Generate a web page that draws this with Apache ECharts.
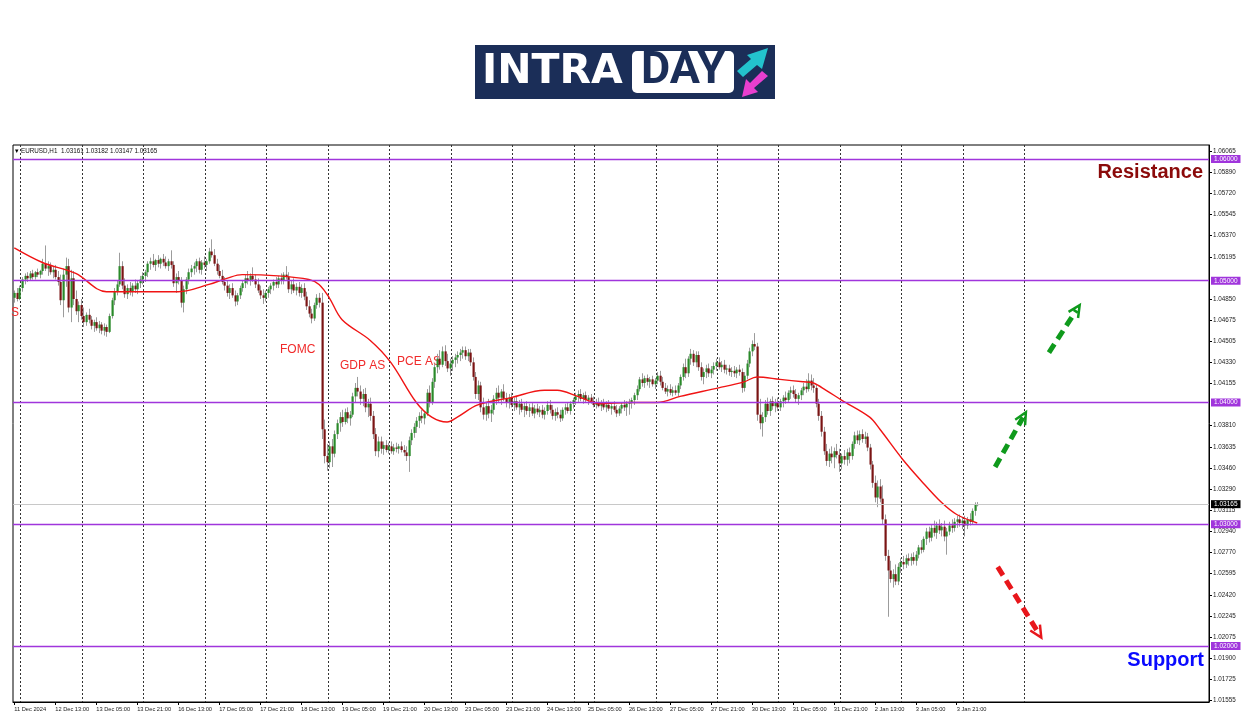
<!DOCTYPE html>
<html><head><meta charset="utf-8">
<script src="https://cdn.jsdelivr.net/npm/echarts@6/dist/echarts.min.js"></script>
<style>html,body{margin:0;padding:0;background:#fff}#c{width:1250px;height:716px}</style>
</head><body><div id="c"></div>
<script>
// ---------- data ----------
const symbolTitle = "EURUSD,H1  1.03161 1.03182 1.03147 1.03165";
const tickLabels = ["11 Dec 2024","12 Dec 13:00","13 Dec 05:00","13 Dec 21:00","16 Dec 13:00","17 Dec 05:00","17 Dec 21:00","18 Dec 13:00","19 Dec 05:00","19 Dec 21:00","20 Dec 13:00","23 Dec 05:00","23 Dec 21:00","24 Dec 13:00","25 Dec 05:00","26 Dec 13:00","27 Dec 05:00","27 Dec 21:00","30 Dec 13:00","31 Dec 05:00","31 Dec 21:00","2 Jan 13:00","3 Jan 05:00","3 Jan 21:00"];
const barsPerTick = 16;
const totalSlots = 467;               // bars + empty shift area to the right
const dayStartBars = [3,27,51,75,99,123,147,171,195,219,227,251,275,299,323,347,371,395];
const yTickValues = [1.06065,1.05890,1.05720,1.05545,1.05370,1.05195,1.04850,1.04675,1.04505,1.04330,1.04155,1.03810,1.03635,1.03460,1.03290,1.03115,1.02940,1.02770,1.02595,1.02420,1.02245,1.02075,1.01900,1.01725,1.01555];
const levelLines = [1.06,1.05,1.04,1.03,1.02];
const currentPrice = 1.03165;
// [open, high, low, close] per H1 bar
const candles = [
[1.0486,1.0492,1.0482,1.0490],[1.0490,1.0494,1.0483,1.0485],[1.0485,1.0496,1.0484,1.0494],[1.0494,1.0503,1.0491,1.0501],[1.0501,1.0506,1.0497,1.0504],
[1.0504,1.0507,1.0499,1.0502],[1.0502,1.0508,1.0500,1.0506],[1.0506,1.0509,1.0501,1.0503],[1.0503,1.0508,1.0501,1.0507],[1.0507,1.0510,1.0503,1.0505],
[1.0505,1.0509,1.0502,1.0508],[1.0508,1.0518,1.0505,1.0514],[1.0514,1.0529,1.0508,1.0510],[1.0510,1.0516,1.0504,1.0512],[1.0512,1.0515,1.0505,1.0507],
[1.0507,1.0512,1.0502,1.0509],[1.0509,1.0513,1.0501,1.0503],[1.0503,1.0508,1.0496,1.0499],[1.0499,1.0505,1.0480,1.0484],[1.0484,1.0510,1.0470,1.0505],
[1.0505,1.0519,1.0495,1.0512],[1.0512,1.0518,1.0474,1.0478],[1.0478,1.0509,1.0466,1.0502],[1.0502,1.0508,1.0480,1.0485],[1.0485,1.0492,1.0472,1.0475],
[1.0475,1.0483,1.0466,1.0480],[1.0480,1.0485,1.0468,1.0471],[1.0471,1.0478,1.0462,1.0466],[1.0466,1.0474,1.0463,1.0472],[1.0472,1.0477,1.0465,1.0468],
[1.0468,1.0471,1.0460,1.0463],[1.0463,1.0468,1.0458,1.0466],[1.0466,1.0470,1.0459,1.0461],[1.0461,1.0467,1.0457,1.0464],[1.0464,1.0466,1.0456,1.0459],
[1.0459,1.0465,1.0455,1.0462],[1.0462,1.0464,1.0454,1.0458],[1.0458,1.0473,1.0457,1.0471],[1.0471,1.0486,1.0469,1.0484],[1.0484,1.0494,1.0480,1.0491],
[1.0491,1.0500,1.0488,1.0497],[1.0497,1.0523,1.0495,1.0512],[1.0512,1.0516,1.0493,1.0496],[1.0496,1.0502,1.0486,1.0489],[1.0489,1.0497,1.0485,1.0494],
[1.0494,1.0499,1.0488,1.0491],[1.0491,1.0498,1.0487,1.0496],[1.0496,1.0501,1.0490,1.0493],[1.0493,1.0500,1.0489,1.0498],[1.0498,1.0504,1.0494,1.0501],
[1.0501,1.0507,1.0497,1.0504],[1.0504,1.0509,1.0499,1.0507],[1.0507,1.0516,1.0503,1.0514],[1.0514,1.0519,1.0509,1.0516],[1.0516,1.0522,1.0511,1.0513],
[1.0513,1.0518,1.0508,1.0517],[1.0517,1.0521,1.0511,1.0514],[1.0514,1.0519,1.0510,1.0518],[1.0518,1.0522,1.0512,1.0515],[1.0515,1.0520,1.0510,1.0512],
[1.0512,1.0518,1.0508,1.0516],[1.0516,1.0525,1.0510,1.0513],[1.0513,1.0516,1.0495,1.0498],[1.0498,1.0506,1.0490,1.0503],[1.0503,1.0508,1.0497,1.0500],
[1.0500,1.0503,1.0478,1.0482],[1.0482,1.0496,1.0474,1.0493],[1.0493,1.0503,1.0489,1.0501],[1.0501,1.0510,1.0497,1.0507],[1.0507,1.0513,1.0503,1.0510],
[1.0510,1.0515,1.0505,1.0512],[1.0512,1.0518,1.0507,1.0516],[1.0516,1.0519,1.0506,1.0509],[1.0509,1.0517,1.0505,1.0515],[1.0515,1.0520,1.0510,1.0513],
[1.0513,1.0518,1.0508,1.0516],[1.0516,1.0527,1.0514,1.0524],[1.0524,1.0534,1.0519,1.0521],[1.0521,1.0526,1.0512,1.0514],[1.0514,1.0518,1.0505,1.0508],
[1.0508,1.0513,1.0502,1.0504],[1.0504,1.0509,1.0497,1.0499],[1.0499,1.0503,1.0492,1.0496],[1.0496,1.0500,1.0487,1.0490],[1.0490,1.0497,1.0485,1.0494],
[1.0494,1.0498,1.0486,1.0488],[1.0488,1.0492,1.0479,1.0483],[1.0483,1.0490,1.0480,1.0488],[1.0488,1.0496,1.0485,1.0494],[1.0494,1.0500,1.0491,1.0498],
[1.0498,1.0505,1.0494,1.0502],[1.0502,1.0508,1.0497,1.0500],[1.0500,1.0506,1.0496,1.0504],[1.0504,1.0511,1.0499,1.0501],[1.0501,1.0505,1.0494,1.0497],
[1.0497,1.0502,1.0490,1.0492],[1.0492,1.0496,1.0485,1.0488],[1.0488,1.0493,1.0481,1.0486],[1.0486,1.0492,1.0483,1.0490],[1.0490,1.0495,1.0486,1.0493],
[1.0493,1.0498,1.0489,1.0496],[1.0496,1.0501,1.0492,1.0499],[1.0499,1.0503,1.0494,1.0497],[1.0497,1.0504,1.0494,1.0502],[1.0502,1.0506,1.0497,1.0500],
[1.0500,1.0507,1.0497,1.0505],[1.0505,1.0512,1.0501,1.0503],[1.0503,1.0507,1.0490,1.0493],[1.0493,1.0500,1.0489,1.0497],[1.0497,1.0502,1.0490,1.0492],
[1.0492,1.0498,1.0488,1.0495],[1.0495,1.0499,1.0487,1.0490],[1.0490,1.0497,1.0486,1.0494],[1.0494,1.0498,1.0484,1.0487],[1.0487,1.0491,1.0476,1.0479],
[1.0479,1.0484,1.0470,1.0473],[1.0473,1.0477,1.0465,1.0469],[1.0469,1.0482,1.0467,1.0480],[1.0480,1.0489,1.0477,1.0486],[1.0486,1.0490,1.0478,1.0482],
[1.0482,1.0490,1.0370,1.0378],[1.0378,1.0386,1.0350,1.0356],[1.0356,1.0366,1.0344,1.0351],[1.0351,1.0368,1.0346,1.0364],[1.0364,1.0370,1.0347,1.0358],
[1.0358,1.0377,1.0355,1.0374],[1.0374,1.0386,1.0370,1.0383],[1.0383,1.0392,1.0376,1.0388],[1.0388,1.0394,1.0380,1.0384],[1.0384,1.0395,1.0382,1.0392],
[1.0392,1.0396,1.0383,1.0387],[1.0387,1.0393,1.0381,1.0390],[1.0390,1.0408,1.0388,1.0405],[1.0405,1.0416,1.0400,1.0412],[1.0412,1.0421,1.0405,1.0409],
[1.0409,1.0414,1.0398,1.0403],[1.0403,1.0411,1.0397,1.0407],[1.0407,1.0412,1.0392,1.0396],[1.0396,1.0403,1.0388,1.0399],[1.0399,1.0404,1.0385,1.0389],
[1.0389,1.0393,1.0370,1.0374],[1.0374,1.0379,1.0356,1.0360],[1.0360,1.0372,1.0355,1.0368],[1.0368,1.0372,1.0358,1.0362],[1.0362,1.0368,1.0357,1.0365],
[1.0365,1.0369,1.0359,1.0361],[1.0361,1.0367,1.0358,1.0364],[1.0364,1.0368,1.0358,1.0360],[1.0360,1.0366,1.0357,1.0363],[1.0363,1.0367,1.0359,1.0362],
[1.0362,1.0366,1.0358,1.0364],[1.0364,1.0368,1.0359,1.0361],[1.0361,1.0365,1.0356,1.0359],[1.0359,1.0364,1.0352,1.0356],[1.0356,1.0372,1.0343,1.0369],
[1.0369,1.0378,1.0365,1.0375],[1.0375,1.0383,1.0371,1.0380],[1.0380,1.0388,1.0375,1.0385],[1.0385,1.0392,1.0379,1.0389],[1.0389,1.0394,1.0383,1.0387],
[1.0387,1.0393,1.0382,1.0391],[1.0391,1.0411,1.0389,1.0408],[1.0408,1.0414,1.0396,1.0400],[1.0400,1.0420,1.0398,1.0417],[1.0417,1.0432,1.0412,1.0429],
[1.0429,1.0440,1.0424,1.0436],[1.0436,1.0443,1.0427,1.0431],[1.0431,1.0446,1.0429,1.0442],[1.0442,1.0447,1.0430,1.0434],[1.0434,1.0440,1.0425,1.0428],
[1.0428,1.0436,1.0422,1.0432],[1.0432,1.0438,1.0426,1.0435],[1.0435,1.0440,1.0429,1.0437],[1.0437,1.0442,1.0432,1.0439],[1.0439,1.0444,1.0434,1.0441],
[1.0441,1.0446,1.0436,1.0443],[1.0443,1.0446,1.0435,1.0438],[1.0438,1.0444,1.0434,1.0441],[1.0441,1.0444,1.0430,1.0433],[1.0433,1.0437,1.0418,1.0421],
[1.0421,1.0425,1.0403,1.0407],[1.0407,1.0418,1.0402,1.0414],[1.0414,1.0417,1.0392,1.0396],[1.0396,1.0404,1.0386,1.0390],[1.0390,1.0400,1.0385,1.0397],
[1.0397,1.0403,1.0387,1.0391],[1.0391,1.0398,1.0384,1.0394],[1.0394,1.0406,1.0390,1.0403],[1.0403,1.0412,1.0398,1.0408],[1.0408,1.0414,1.0400,1.0404],
[1.0404,1.0411,1.0398,1.0409],[1.0409,1.0415,1.0401,1.0403],[1.0403,1.0408,1.0396,1.0400],[1.0400,1.0407,1.0395,1.0404],[1.0404,1.0408,1.0396,1.0398],
[1.0398,1.0404,1.0393,1.0401],[1.0401,1.0405,1.0394,1.0396],[1.0396,1.0402,1.0390,1.0399],[1.0399,1.0403,1.0392,1.0394],[1.0394,1.0400,1.0388,1.0397],
[1.0397,1.0401,1.0390,1.0393],[1.0393,1.0399,1.0388,1.0396],[1.0396,1.0400,1.0389,1.0391],[1.0391,1.0398,1.0387,1.0395],[1.0395,1.0399,1.0390,1.0392],
[1.0392,1.0397,1.0388,1.0394],[1.0394,1.0398,1.0387,1.0390],[1.0390,1.0396,1.0386,1.0393],[1.0393,1.0401,1.0390,1.0398],[1.0398,1.0402,1.0391,1.0394],
[1.0394,1.0398,1.0386,1.0389],[1.0389,1.0395,1.0385,1.0392],[1.0392,1.0396,1.0387,1.0390],[1.0390,1.0394,1.0384,1.0387],[1.0387,1.0396,1.0385,1.0394],
[1.0394,1.0399,1.0390,1.0396],[1.0396,1.0400,1.0391,1.0393],[1.0393,1.0401,1.0390,1.0399],[1.0399,1.0404,1.0395,1.0402],[1.0402,1.0408,1.0398,1.0405],
[1.0405,1.0410,1.0400,1.0407],[1.0407,1.0411,1.0401,1.0403],[1.0403,1.0408,1.0399,1.0406],[1.0406,1.0409,1.0400,1.0402],[1.0402,1.0406,1.0398,1.0404],
[1.0404,1.0407,1.0399,1.0401],[1.0401,1.0405,1.0396,1.0398],[1.0398,1.0403,1.0395,1.0400],[1.0400,1.0404,1.0396,1.0397],[1.0397,1.0402,1.0393,1.0399],
[1.0399,1.0403,1.0394,1.0396],[1.0396,1.0401,1.0392,1.0398],[1.0398,1.0402,1.0393,1.0395],[1.0395,1.0399,1.0390,1.0397],[1.0397,1.0401,1.0392,1.0394],
[1.0394,1.0398,1.0388,1.0391],[1.0391,1.0397,1.0389,1.0395],[1.0395,1.0400,1.0391,1.0398],[1.0398,1.0402,1.0393,1.0396],[1.0396,1.0401,1.0389,1.0399],
[1.0399,1.0403,1.0390,1.0400],[1.0400,1.0404,1.0395,1.0402],[1.0402,1.0408,1.0398,1.0406],[1.0406,1.0414,1.0402,1.0411],[1.0411,1.0421,1.0409,1.0419],
[1.0419,1.0424,1.0413,1.0416],[1.0416,1.0422,1.0412,1.0420],[1.0420,1.0423,1.0414,1.0417],[1.0417,1.0421,1.0412,1.0419],[1.0419,1.0422,1.0413,1.0415],
[1.0415,1.0420,1.0411,1.0418],[1.0418,1.0425,1.0415,1.0422],[1.0422,1.0426,1.0414,1.0417],[1.0417,1.0421,1.0410,1.0412],[1.0412,1.0416,1.0407,1.0409],
[1.0409,1.0414,1.0405,1.0411],[1.0411,1.0415,1.0406,1.0408],[1.0408,1.0413,1.0405,1.0410],[1.0410,1.0414,1.0406,1.0408],[1.0408,1.0416,1.0405,1.0414],
[1.0414,1.0423,1.0411,1.0421],[1.0421,1.0432,1.0418,1.0429],[1.0429,1.0436,1.0420,1.0424],[1.0424,1.0438,1.0421,1.0436],[1.0436,1.0444,1.0431,1.0440],
[1.0440,1.0443,1.0430,1.0433],[1.0433,1.0442,1.0429,1.0439],[1.0439,1.0442,1.0426,1.0429],[1.0429,1.0433,1.0418,1.0421],[1.0421,1.0428,1.0415,1.0425],
[1.0425,1.0431,1.0420,1.0428],[1.0428,1.0432,1.0421,1.0424],[1.0424,1.0430,1.0420,1.0427],[1.0427,1.0433,1.0423,1.0430],[1.0430,1.0436,1.0426,1.0433],
[1.0433,1.0437,1.0427,1.0429],[1.0429,1.0434,1.0425,1.0431],[1.0431,1.0435,1.0424,1.0427],[1.0427,1.0431,1.0423,1.0428],[1.0428,1.0431,1.0422,1.0425],
[1.0425,1.0429,1.0421,1.0426],[1.0426,1.0430,1.0421,1.0424],[1.0424,1.0429,1.0420,1.0427],[1.0427,1.0431,1.0422,1.0425],[1.0425,1.0428,1.0408,1.0412],
[1.0412,1.0425,1.0409,1.0422],[1.0422,1.0435,1.0419,1.0432],[1.0432,1.0445,1.0429,1.0442],[1.0442,1.0451,1.0438,1.0448],[1.0448,1.0457,1.0443,1.0446],
[1.0446,1.0449,1.0385,1.0390],[1.0390,1.0403,1.0378,1.0383],[1.0383,1.0392,1.0372,1.0388],[1.0388,1.0402,1.0384,1.0399],[1.0399,1.0404,1.0390,1.0393],
[1.0393,1.0403,1.0389,1.0401],[1.0401,1.0405,1.0394,1.0397],[1.0397,1.0403,1.0392,1.0400],[1.0400,1.0404,1.0393,1.0396],[1.0396,1.0403,1.0393,1.0401],
[1.0401,1.0406,1.0396,1.0404],[1.0404,1.0409,1.0399,1.0402],[1.0402,1.0410,1.0400,1.0408],[1.0408,1.0413,1.0403,1.0410],[1.0410,1.0414,1.0404,1.0407],
[1.0407,1.0411,1.0400,1.0403],[1.0403,1.0408,1.0398,1.0406],[1.0406,1.0412,1.0402,1.0410],[1.0410,1.0416,1.0406,1.0413],[1.0413,1.0419,1.0408,1.0411],
[1.0411,1.0424,1.0409,1.0418],[1.0418,1.0423,1.0410,1.0414],[1.0414,1.0420,1.0408,1.0412],[1.0412,1.0415,1.0396,1.0399],[1.0399,1.0403,1.0385,1.0389],
[1.0389,1.0393,1.0372,1.0376],[1.0376,1.0380,1.0357,1.0360],[1.0360,1.0366,1.0348,1.0352],[1.0352,1.0362,1.0347,1.0358],[1.0358,1.0364,1.0350,1.0355],
[1.0355,1.0363,1.0346,1.0360],[1.0360,1.0366,1.0354,1.0357],[1.0357,1.0362,1.0343,1.0350],[1.0350,1.0358,1.0345,1.0356],[1.0356,1.0361,1.0349,1.0353],
[1.0353,1.0362,1.0348,1.0359],[1.0359,1.0363,1.0350,1.0356],[1.0356,1.0368,1.0353,1.0366],[1.0366,1.0376,1.0362,1.0373],[1.0373,1.0377,1.0366,1.0369],
[1.0369,1.0377,1.0365,1.0374],[1.0374,1.0378,1.0367,1.0370],[1.0370,1.0376,1.0366,1.0372],[1.0372,1.0375,1.0360,1.0363],[1.0363,1.0366,1.0345,1.0349],
[1.0349,1.0352,1.0330,1.0334],[1.0334,1.0340,1.0318,1.0322],[1.0322,1.0336,1.0314,1.0331],[1.0331,1.0337,1.0318,1.0321],[1.0321,1.0332,1.0300,1.0304],
[1.0304,1.0308,1.0270,1.0274],[1.0274,1.0279,1.0224,1.0262],[1.0262,1.0270,1.0252,1.0255],[1.0255,1.0263,1.0248,1.0259],[1.0259,1.0267,1.0250,1.0253],
[1.0253,1.0268,1.0250,1.0265],[1.0265,1.0272,1.0260,1.0269],[1.0269,1.0274,1.0263,1.0267],[1.0267,1.0275,1.0264,1.0272],[1.0272,1.0276,1.0266,1.0270],
[1.0270,1.0276,1.0266,1.0273],[1.0273,1.0277,1.0267,1.0270],[1.0270,1.0278,1.0266,1.0275],[1.0275,1.0283,1.0272,1.0281],[1.0281,1.0287,1.0276,1.0279],
[1.0279,1.0290,1.0277,1.0288],[1.0288,1.0297,1.0283,1.0294],[1.0294,1.0298,1.0285,1.0289],[1.0289,1.0300,1.0286,1.0297],[1.0297,1.0303,1.0290,1.0293],
[1.0293,1.0302,1.0288,1.0299],[1.0299,1.0304,1.0292,1.0295],[1.0295,1.0301,1.0290,1.0298],[1.0298,1.0303,1.0286,1.0290],[1.0290,1.0297,1.0275,1.0294],
[1.0294,1.0302,1.0291,1.0299],[1.0299,1.0304,1.0293,1.0297],[1.0297,1.0305,1.0294,1.0302],[1.0302,1.0307,1.0297,1.0304],[1.0304,1.0308,1.0298,1.0301],
[1.0301,1.0306,1.0296,1.0303],[1.0303,1.0307,1.0290,1.0299],[1.0299,1.0306,1.0296,1.0304],[1.0304,1.0309,1.0299,1.0302],[1.0302,1.0313,1.0300,1.0311],
[1.0311,1.0318,1.0307,1.0316],[1.03161,1.03182,1.03147,1.03165]
];
// moving average: [bar, value]
const maPoints = [[0,1.0527],[11,1.0515],[24,1.0506],[36,1.0491],[50,1.0491],[64,1.0491],[76,1.0497],[83,1.0502],[89,1.0505],[103,1.0504],[115,1.0501],[119,1.0497],[123,1.0486],[128,1.0468],[139,1.0451],[147,1.0433],[157,1.0400],[163,1.0388],[169,1.0384],[173,1.0388],[181,1.0398],[194,1.0404],[207,1.0410],[212,1.0410],[220,1.0405],[229,1.0399],[240,1.0400],[251,1.0400],[260,1.0405],[275,1.0412],[285,1.0417],[290,1.0421],[299,1.0419],[308,1.0417],[312,1.0416],[317,1.0410],[323,1.0402],[334,1.0388],[338,1.0378],[347,1.0353],[354,1.0336],[362,1.0318],[368,1.0308],[376,1.0301]];
// dashed scenario arrows: [fromBar, fromPrice, toBar, toPrice, colour]
const arrows = [[382.5,1.0347,395,1.0392,'#0f9a1c'],[404,1.0441,415.7,1.0480,'#0f9a1c'],[384.4,1.0265,400.8,1.0207,'#e8161b']];
const eventNotes = [["FOMC",280,350],["GDP AS",340,366],["PCE AS",397,362],["S",11,313]];

// ---------- chart ----------
const N = totalSlots;
const cats = Array.from({length: N}, (_, i) => String(i));
const lineColor = '#a035dc';
const chart = echarts.init(document.getElementById('c'), null, {renderer: 'canvas'});
const font = 'Liberation Sans, Arial, sans-serif';

function renderCandle(params, api) {
  const i = api.value(0), o = api.value(1), h = api.value(2), l = api.value(3), c = api.value(4);
  const pH = api.coord([i, h]), pL = api.coord([i, l]), pO = api.coord([i, o]), pC = api.coord([i, c]);
  const x = Math.round(pH[0]) + 0.5;
  const top = Math.min(pO[1], pC[1]), bot = Math.max(pO[1], pC[1]);
  const up = c >= o;
  return {type: 'group', children: [
    {type: 'line', shape: {x1: x, y1: pH[1], x2: x, y2: pL[1]}, style: {stroke: '#9c9c9c', lineWidth: 1}},
    {type: 'rect', shape: {x: x - 1, y: top, width: 2.2, height: Math.max(bot - top, 1)}, style: {fill: up ? '#2a8a2a' : '#7a1414'}}
  ]};
}
function renderArrow(params, api) {
  const s = api.coord([api.value(0), api.value(1)]);
  const e = api.coord([api.value(2), api.value(3)]);
  const col = arrows[params.dataIndex][4];
  const dx = e[0] - s[0], dy = e[1] - s[1], len = Math.hypot(dx, dy);
  const ux = dx / len, uy = dy / len;
  const hl = 13, ang = 0.45;
  const b1 = [e[0] - hl * (ux * Math.cos(ang) - uy * Math.sin(ang)), e[1] - hl * (uy * Math.cos(ang) + ux * Math.sin(ang))];
  const b2 = [e[0] - hl * (ux * Math.cos(-ang) - uy * Math.sin(-ang)), e[1] - hl * (uy * Math.cos(-ang) + ux * Math.sin(-ang))];
  const stop = [e[0] - ux * 6, e[1] - uy * 6];
  return {type: 'group', children: [
    {type: 'line', shape: {x1: s[0], y1: s[1], x2: stop[0], y2: stop[1]}, style: {stroke: col, lineWidth: 5, lineDash: [10, 6]}},
    {type: 'polyline', shape: {points: [b1, e, b2]}, style: {stroke: col, lineWidth: 2.5, fill: null}}
  ]};
}

const markData = levelLines.map(v => ({yAxis: v, lineStyle: {color: lineColor, width: 1.3, type: 'solid'},
  label: {backgroundColor: lineColor, color: '#fff'}}));
markData.push({yAxis: currentPrice, lineStyle: {color: '#c8c8c8', width: 1, type: 'solid'},
  label: {backgroundColor: '#000', color: '#fff'}});

const tickShown = (idx) => idx % barsPerTick === 0 && idx / barsPerTick < tickLabels.length;

const option = {
  animation: false,
  backgroundColor: '#fff',
  grid: {left: 13, right: 41, top: 145, bottom: 14, show: true, borderColor: '#000', borderWidth: 1, backgroundColor: 'transparent'},
  xAxis: {
    type: 'category', data: cats, boundaryGap: true,
    axisLine: {show: true, lineStyle: {color: '#000'}},
    axisTick: {show: true, alignWithLabel: true, length: 3, lineStyle: {color: '#000'}, interval: tickShown},
    axisLabel: {show: true, fontSize: 5.7, fontFamily: font, color: '#222', align: 'left', margin: 4,
      interval: tickShown,
      formatter: (val) => tickLabels[Math.round(Number(val) / barsPerTick)] || ''},
    splitLine: {show: true, interval: (idx) => dayStartBars.indexOf(idx) >= 0,
      lineStyle: {color: '#333', width: 1, type: [2, 2]}}
  },
  yAxis: {
    type: 'value', position: 'right', min: 1.0154, max: 1.06115, scale: true,
    axisLine: {show: true, lineStyle: {color: '#000'}},
    axisTick: {show: true, length: 3, customValues: yTickValues, lineStyle: {color: '#000'}},
    axisLabel: {show: true, fontSize: 6.3, fontFamily: font, color: '#222', margin: 4,
      customValues: yTickValues, formatter: v => v.toFixed(5)},
    splitLine: {show: false}
  },
  series: [
    {type: 'custom', name: 'candles', renderItem: renderCandle, clip: true,
      encode: {x: 0, y: [1, 2, 3, 4]},
      data: candles.map((r, i) => [i, r[0], r[1], r[2], r[3]]), z: 3},
    {type: 'line', name: 'MA', data: maPoints, smooth: 0.35, showSymbol: false, symbol: 'none',
      lineStyle: {color: '#f01414', width: 1.4}, z: 4,
      markLine: {silent: true, symbol: ['none', 'none'], precision: 5,
        label: {show: true, position: 'end', distance: 2, fontSize: 6.5, fontFamily: font,
          padding: [1, 3, 0, 3], formatter: p => Number(p.value).toFixed(5)},
        data: markData}},
    {type: 'custom', name: 'arrows', renderItem: renderArrow, clip: false,
      encode: {x: [0, 2], y: [1, 3]}, data: arrows.map(a => [a[0], a[1], a[2], a[3]]), z: 5}
  ],
  graphic: [
    // logo
    {type: 'rect', shape: {x: 475, y: 45, width: 300, height: 54}, style: {fill: '#1b2e58'}},
    {type: 'text', x: 482, y: 72, style: {text: 'INTRA', fill: '#fff', font: 'bold 41px "DejaVu Sans", sans-serif', verticalAlign: 'middle', align: 'left'}},
    {type: 'rect', shape: {x: 632, y: 51, width: 102, height: 42, r: 5}, style: {fill: '#fff'}},
    {type: 'text', x: 683, y: 72, style: {text: 'DAY', fill: '#1b2e58', font: 'bold 45px Roboto, "Open Sans", sans-serif', verticalAlign: 'middle', align: 'center'}},
    {type: 'polygon', shape: {points: [[737, 71], [751, 59], [747, 55], [768, 48], [762, 69], [757, 65], [743, 77]]}, style: {fill: '#23c3cd'}},
    {type: 'polygon', shape: {points: [[768, 76], [754, 88], [758, 92], [742, 97], [746, 79], [750, 83], [762, 71]]}, style: {fill: '#e83fcf'}},
    // header
    {type: 'text', x: 15, y: 151, style: {text: '\u25BE', fill: '#000', font: '7px ' + font, verticalAlign: 'middle'}},
    {type: 'text', x: 21, y: 151, style: {text: symbolTitle, fill: '#111', font: '6.3px ' + font, verticalAlign: 'middle'}},
    // level titles
    {type: 'text', x: 1203, y: 172, style: {text: 'Resistance', fill: '#8b0a0a', font: 'bold 20px "Liberation Sans", Arial, sans-serif', align: 'right', verticalAlign: 'middle'}},
    {type: 'text', x: 1204, y: 660, style: {text: 'Support', fill: '#0a0aff', font: 'bold 20px "Liberation Sans", Arial, sans-serif', align: 'right', verticalAlign: 'middle'}},
    ...eventNotes.map(n => ({type: 'text', x: n[1], y: n[2], style: {text: n[0], fill: '#f02a2a', font: '12px "Liberation Sans", Arial, sans-serif', verticalAlign: 'middle'}}))
  ]
};
chart.setOption(option);
</script></body></html>
